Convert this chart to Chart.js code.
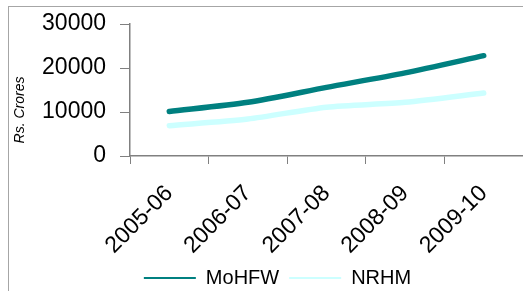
<!DOCTYPE html>
<html lang="en">
<head>
    <meta charset="UTF-8">
    <title>MoHFW and NRHM spending</title>
    <script src="https://cdn.jsdelivr.net/npm/chart.js"></script>
    <style>
        body { margin: 0; background: #fff; }
        #frame { position: absolute; left: 8px; top: 6px; width: 520px; height: 290px; border-left: 1px solid #a6a6a6; border-top: 1px solid #a6a6a6; }
        #wrap { position: absolute; left: 0; top: 0; width: 523px; height: 291px; }
    </style>
</head>
<body>
    <div id="frame"></div>
    <div id="wrap"><canvas id="chart"></canvas></div>

    <script>
        const years = ['2005-06', '2006-07', '2007-08', '2008-09', '2009-10'];
        const mohfw = [10100, 12200, 15600, 18900, 22800];
        const nrhm = [6900, 8400, 11100, 12200, 14300];
        const yTicks = [0, 10000, 20000, 30000];
        const yTitle = 'Rs. Crores';

        Chart.defaults.font.family = "'Liberation Sans', Arial, sans-serif";
        Chart.defaults.color = '#000';

        // axis title sits lower than the axis centre in the original, so draw it by hand
        const yTitlePlugin = {
            id: 'yTitle',
            afterDraw(chart) {
                const ctx = chart.ctx;
                ctx.save();
                ctx.translate(20, 110);
                ctx.rotate(-Math.PI / 2);
                ctx.font = "italic 14px 'Liberation Sans', Arial, sans-serif";
                ctx.fillStyle = '#000';
                ctx.textAlign = 'center';
                ctx.textBaseline = 'middle';
                ctx.fillText(yTitle, 0, 0);
                ctx.restore();
            }
        };

        // legend is centred on the uncropped original, shift it
        const legendShift = {
            id: 'legendShift',
            afterLayout(chart) {
                const l = chart.legend;
                l.left += 16; l.right += 16;
                l.top += 7; l.bottom += 7;
            }
        };

        new Chart(document.getElementById('chart'), {
            type: 'line',
            data: {
                labels: years,
                datasets: [
                    { label: 'MoHFW', data: mohfw, borderColor: '#008080', backgroundColor: '#008080', borderWidth: 5.5, pointRadius: 0, tension: 0.25, borderCapStyle: 'round' },
                    { label: 'NRHM', data: nrhm, borderColor: '#ccffff', backgroundColor: '#ccffff', borderWidth: 5.5, pointRadius: 0, tension: 0.25, borderCapStyle: 'round' }
                ]
            },
            options: {
                responsive: true,
                maintainAspectRatio: false,
                animation: false,
                layout: { padding: { top: 24, right: 0, left: 0, bottom: 0 } },
                plugins: {
                    tooltip: { enabled: false },
                    legend: {
                        position: 'bottom',
                        labels: {
                            boxWidth: 52,
                            boxHeight: 2,
                            padding: 10,
                            font: { size: 20 },
                            generateLabels(chart) {
                                return Chart.defaults.plugins.legend.labels.generateLabels(chart).map(it => {
                                    it.fillStyle = it.strokeStyle;
                                    it.lineWidth = 0;
                                    return it;
                                });
                            }
                        }
                    }
                },
                scales: {
                    x: {
                        offset: true,
                        grid: { display: true, drawOnChartArea: false, offset: true, tickLength: 8, color: '#808080' },
                        border: { color: '#808080', width: 1.5 },
                        ticks: { minRotation: 45, maxRotation: 45, padding: 16, font: { size: 23 }, color: '#000' },
                        afterFit(s) {
                            s.height = 95; s.paddingLeft = 0; s.paddingRight = 0;
                            s._computeLabelArea = () => undefined; // labels run under the legend box, don't clip them
                        }
                    },
                    y: {
                        min: 0,
                        max: 30000,
                        afterBuildTicks(s) { s.ticks = yTicks.map(v => ({ value: v })); },
                        grid: { display: true, drawOnChartArea: false, tickLength: 10, color: '#808080' },
                        border: { color: '#808080', width: 1.5 },
                        ticks: { padding: 14, font: { size: 23 }, color: '#000', callback: v => String(v) },
                        afterFit(s) { s.width = 130; s.paddingTop = 0; s.paddingBottom = 0; }
                    }
                }
            },
            plugins: [yTitlePlugin, legendShift]
        });
    </script>
</body>
</html>
